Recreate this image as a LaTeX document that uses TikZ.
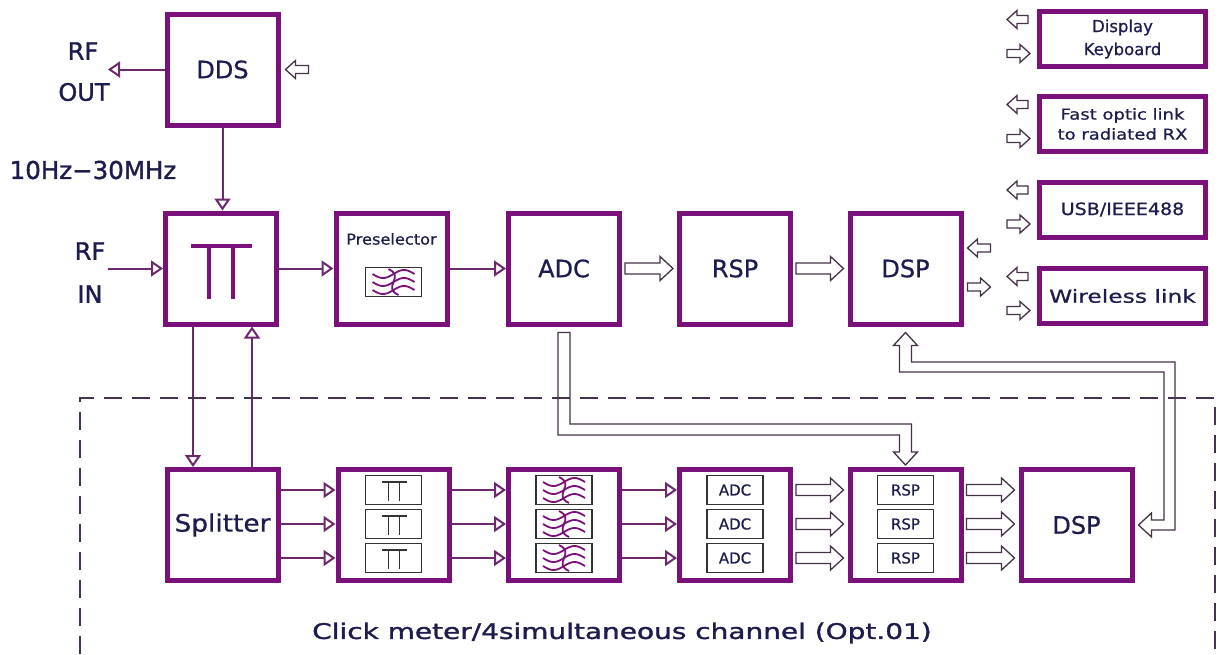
\documentclass[tikz,border=0pt]{standalone}
\usepackage{fontspec}
\usepackage{graphicx}
\setmainfont{DejaVu Sans}
\newfontfamily\semib{DejaVu Sans}[FakeBold=1.3]
\newfontfamily\medf{DejaVu Sans}[FakeBold=0.6]
\usetikzlibrary{arrows.meta,calc}
\definecolor{boxc}{RGB}{122,16,122}
\definecolor{linec}{RGB}{110,40,110}
\definecolor{txtc}{RGB}{28,28,78}
\definecolor{arrc}{RGB}{70,50,72}
\definecolor{dashc}{RGB}{72,50,82}
% hollow horizontal arrow: #1 tail, #2 tip, #3 shaft half, #4 head half, #5 head length, #6 direction (1 right, -1 left)
\newcommand{\harr}[6]{%
  \draw[blk] let \p1=#1, \p2=#2 in
   (\x1,{\y1+#3pt}) -- ({\x2-(#6)*#5pt},{\y1+#3pt}) -- ({\x2-(#6)*#5pt},{\y1+#4pt})
   -- (\x2,\y1) -- ({\x2-(#6)*#5pt},{\y1-#4pt}) -- ({\x2-(#6)*#5pt},{\y1-#3pt})
   -- (\x1,{\y1-#3pt}) -- cycle;}
\newcommand{\filtersym}{%
  \foreach \dy in {-8,0,8}
    \draw[filt] plot[domain=-21:21,samples=40,smooth] (\x,{\dy-4*sin(8.57*\x)});
  \draw[filt] (-5,-13) .. controls (12,-5) and (-12,5) .. (5,13);}
\begin{document}
\begin{tikzpicture}[x=1pt,y=-1pt,
  box/.style={draw=boxc, line width=5pt, minimum width=111pt, minimum height=111pt,
    inner sep=0pt, text=txtc, font=\medf\fontsize{24}{28}\selectfont},
  rbox/.style={box, minimum width=166pt, minimum height=55pt},
  ibox/.style={draw=black!80, line width=1.2pt, minimum width=56pt, minimum height=29pt,
    inner sep=0pt, text=txtc, font=\medf\fontsize{15}{16}\selectfont},
  conn/.style={draw=linec, line width=2pt, -{Triangle[open,length=12pt,width=16pt]}},
  blk/.style={draw=arrc, line width=1.3pt, fill=white},
  lbl/.style={text=txtc, inner sep=0pt},
  filt/.style={draw=boxc, line width=1.8pt},
  ttbig/.style={draw=boxc, line width=3.5pt},
  ttsmall/.style={draw=black!80, line width=1.3pt},
  dsh/.style={draw=dashc, line width=1.8pt, dash pattern=on 18pt off 10pt}]
\useasboundingbox (0,0) rectangle (1219,654);
\fill[white] (0,0) rectangle (1219,654);

% ---- top row
\node[box] (dds) at (222.5,69.5) {DDS};
\node[box] (sw)  at (221,268.5) {};
\node[box] (pre) at (391.5,268.5) {};
\node[box] (adc) at (564,268.5) {ADC};
\node[box] (rsp) at (735,268.5) {RSP};
\node[box] (dsp) at (905.5,268.5) {DSP};

% switch symbol
\begin{scope}[shift={(sw.center)}]
  \draw[ttbig] (-30,-22.5) -- (31,-22.5) (-12,-22.5) -- (-12,30.5) (12,-22.5) -- (12,30.5);
\end{scope}
% preselector
\node[lbl, font=\medf\fontsize{15}{17}\selectfont] (prel) at (391.5,239) {\scalebox{1.08}[1]{Preselector}};
\node[ibox] (pf) at (393.5,282) {};
\begin{scope}[shift={(pf.center)}] \filtersym \end{scope}

% ---- right boxes
\node[rbox, font=\medf\fontsize{16.5}{23}\selectfont, align=center] (disp) at (1122.5,39) {Display\\Keyboard};
\node[rbox, font=\medf\fontsize{15}{20}\selectfont, align=center] (fast) at (1122.5,124) {\scalebox{1.2}[1]{Fast optic link}\\\scalebox{1.2}[1]{to radiated RX}};
\node[rbox, font=\medf\fontsize{17}{20}\selectfont] (usb) at (1122.5,209.5) {\scalebox{1.12}[1]{USB/IEEE488}};
\node[rbox, font=\medf\fontsize{18}{20}\selectfont] (wire) at (1122.5,296) {\scalebox{1.3}[1]{Wireless link}};
\foreach \b in {disp,fast,usb,wire} {
  \harr{($(\b.west)+(-9,-19.5)$)}{($(\b.west)+(-30,-19.5)$)}{4}{9}{10}{-1}
  \harr{($(\b.west)+(-30,14.5)$)}{($(\b.west)+(-7,14.5)$)}{4}{9}{10}{1}
}
% DSP side arrows
\harr{($(dsp.east)+(27,-20.5)$)}{($(dsp.east)+(4,-20.5)$)}{4}{9}{10}{-1}
\harr{($(dsp.east)+(4,18.5)$)}{($(dsp.east)+(27,18.5)$)}{4}{9}{10}{1}
% DDS control arrow
\harr{($(dds.east)+(28,0)$)}{($(dds.east)+(5,0)$)}{4}{9}{10}{-1}

% ---- labels
\node[lbl, font=\semib\fontsize{24}{28}\selectfont] (rf1) at (83,51) {RF};
\node[lbl, font=\semib\fontsize{24}{28}\selectfont] (out) at (84,92) {OUT};
\node[lbl, font=\semib\fontsize{24.5}{28}\selectfont] (freq) at (93,170) {10Hz−30MHz};
\node[lbl, font=\semib\fontsize{24}{28}\selectfont] (rf2) at (90,251) {RF};
\node[lbl, font=\semib\fontsize{24}{28}\selectfont] (in) at (90,294) {IN};

% ---- top connectors
\coordinate (rfo) at (108,69.5);
\coordinate (rfi) at (108,268.5);
\draw[conn] (dds.west) -- (rfo);
\draw[conn] (rfi) -- (sw.west);
\draw[conn] (dds.south) -- (dds.south |- sw.north);
\draw[conn] (sw.east) -- (pre.west);
\draw[conn] (pre.east) -- (adc.west);
\harr{($(adc.east)+(3,0)$)}{($(rsp.west)+(-4,0)$)}{5.5}{12}{13}{1}
\harr{($(rsp.east)+(3,0)$)}{($(dsp.west)+(-4,0)$)}{5.5}{12}{13}{1}

% ---- bottom row
\node[box] (spl)  at (222.5,525) {\scalebox{1.1}[1]{Splitter}};
\node[box] (swb)  at (393.5,525) {};
\node[box] (flb)  at (564,525) {};
\node[box] (adcb) at (735,525) {};
\node[box] (rspb) at (905.5,525) {};
\node[box] (dspb) at (1076.5,525) {DSP};
\foreach \r/\yy in {1/490,2/524,3/558} {
  \node[ibox] (s\r) at (393.5,\yy) {};
  \node[ibox] (f\r) at (564,\yy) {};
  \node[ibox] (a\r) at (735,\yy) {ADC};
  \node[ibox] (r\r) at (905.5,\yy) {RSP};
  \begin{scope}[shift={(s\r.center)}]
    \draw[ttsmall] (-12,-8) -- (13,-8) (-5,-8) -- (-5,11) (6,-8) -- (6,11);
  \end{scope}
  \begin{scope}[shift={(f\r.center)}] \filtersym \end{scope}
  \draw[conn] (spl.east |- s\r) -- (swb.west |- s\r);
  \draw[conn] (swb.east |- s\r) -- (flb.west |- s\r);
  \draw[conn] (flb.east |- s\r) -- (adcb.west |- s\r);
  \harr{($(adcb.east |- a\r)+(3,0)$)}{($(rspb.west |- a\r)+(-4,0)$)}{5.5}{12}{13}{1}
  \harr{($(rspb.east |- r\r)+(3,0)$)}{($(dspb.west |- r\r)+(-4,0)$)}{5.5}{12}{13}{1}
}

% switch <-> splitter
\coordinate (xd) at (193,0);
\coordinate (xu) at (252,0);
\draw[conn] (sw.south -| xd) -- (spl.north -| xd);
\draw[conn] (spl.north -| xu) -- (sw.south -| xu);

% ADC -> RSP bank hollow arrow
\draw[blk] let \p1=(adc.south), \p2=(rspb.north) in
  ({\x1-6pt},{\y1-6pt}) -- ({\x1-6pt},-435pt) -- ({\x2-6pt},-435pt) -- ({\x2-6pt},{\y2+15pt})
  -- ({\x2-12pt},{\y2+15pt}) -- (\x2,{\y2+2pt}) -- ({\x2+12pt},{\y2+15pt}) -- ({\x2+6pt},{\y2+15pt})
  -- ({\x2+6pt},-424pt) -- ({\x1+6pt},-424pt) -- ({\x1+6pt},{\y1-6pt}) -- cycle;

% DSP bank <-> DSP hollow arrow
\draw[blk] let \p1=(dsp.south), \p2=(dspb.east) in
  (\x1,{\y1-6pt}) -- ({\x1+12pt},{\y1-19pt}) -- ({\x1+6pt},{\y1-19pt}) -- ({\x1+6pt},-362pt)
  -- (1175pt,-362pt) -- (1175pt,{\y2-5pt}) -- ({\x2+17pt},{\y2-5pt}) -- ({\x2+17pt},{\y2-12pt})
  -- ({\x2+4pt},\y2) -- ({\x2+17pt},{\y2+12pt}) -- ({\x2+17pt},{\y2+5pt}) -- (1164pt,{\y2+5pt})
  -- (1164pt,-372pt) -- ({\x1-6pt},-372pt) -- ({\x1-6pt},{\y1-19pt}) -- ({\x1-12pt},{\y1-19pt}) -- cycle;

% dashed frame
\draw[dsh] (80,654) -- (80,398) -- (1215,398) -- (1215,654);

\node[lbl, font=\semib\fontsize{21.5}{24}\selectfont] (cap) at (622,633) {\scalebox{1.3}[1]{Click meter/4simultaneous channel (Opt.01)}};
\end{tikzpicture}
\end{document}
